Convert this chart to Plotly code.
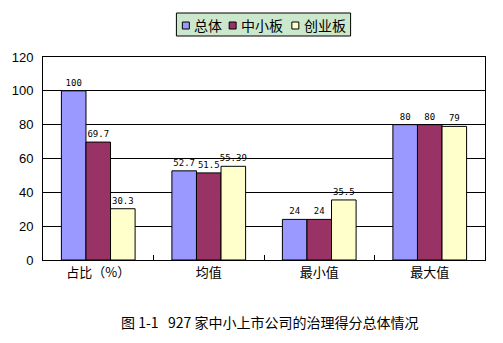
import plotly.graph_objects as go

categories = ["占比（%）", "均值", "最小值", "最大值"]
series_names = ["总体", "中小板", "创业板"]
total_vals = [100, 52.7, 24, 80]
sme_vals = [69.7, 51.5, 24, 80]
gem_vals = [30.3, 55.39, 35.5, 79]
y_ticks = [0, 20, 40, 60, 80, 100, 120]
caption = "图 1-1   927 家中小上市公司的治理得分总体情况"

colors = ["#9999FF", "#993366", "#FFFFCC"]
values = [total_vals, sme_vals, gem_vals]

W, H = 503, 343
L, R, T, B = 41, 18, 57, 83
PW, PH = W - L - R, H - T - B


def px_x(px):
    return (px - L) / PW


def px_y(py):
    return (H - B - py) / PH


fig = go.Figure()
for name, vals, color in zip(series_names, values, colors):
    fig.add_trace(go.Bar(
        x=categories, y=vals, name=name,
        marker=dict(color=color, line=dict(color="black", width=1)),
        text=[f"{v:g}" for v in vals],
        textposition="outside",
        constraintext="none",
        cliponaxis=False,
        textfont=dict(family="DejaVu Sans Mono", size=9, color="black"),
        showlegend=False,
    ))

# compact boxed legend drawn above the plot area
shapes = [dict(
    type="rect", xref="paper", yref="paper",
    x0=px_x(175), x1=px_x(350), y0=px_y(36), y1=px_y(13),
    fillcolor="#CCE8CC", line=dict(color="black", width=1), layer="above",
)]
annotations = []
item_x = [181, 228, 291]
for name, color, sx in zip(series_names, colors, item_x):
    shapes.append(dict(
        type="rect", xref="paper", yref="paper",
        x0=px_x(sx), x1=px_x(sx + 7), y0=px_y(29), y1=px_y(22),
        fillcolor=color, line=dict(color="black", width=1), layer="above",
    ))
    annotations.append(dict(
        text=name, xref="paper", yref="paper",
        x=px_x(sx + 10), y=px_y(25), xanchor="left", yanchor="middle",
        showarrow=False, font=dict(family="Noto Sans CJK SC", size=14),
    ))

annotations.append(dict(
    text=caption, xref="paper", yref="paper",
    x=px_x(269), y=px_y(322), xanchor="center", yanchor="middle",
    showarrow=False, font=dict(family="Noto Sans CJK SC", size=14),
))

fig.update_layout(
    width=W, height=H,
    margin=dict(l=L, r=R, t=T, b=B),
    paper_bgcolor="white", plot_bgcolor="white",
    barmode="group", bargap=0.333, bargroupgap=0,
    font=dict(family="Noto Sans CJK SC", color="black"),
    showlegend=False,
    xaxis=dict(
        showline=True, linecolor="black", linewidth=1, mirror=True,
        ticks="inside", ticklen=5, tickcolor="black", tickson="boundaries",
        tickfont=dict(family="Noto Sans CJK SC", size=13),
        fixedrange=True,
    ),
    yaxis=dict(
        range=[0, 120], tickvals=y_ticks,
        showgrid=True, gridcolor="black", gridwidth=1,
        showline=True, linecolor="black", linewidth=1, mirror=True,
        zeroline=False, ticks="", ticklabelstandoff=6,
        tickfont=dict(family="Liberation Sans", size=13),
    ),
    shapes=shapes,
    annotations=annotations,
)

fig.write_html("out.html")
